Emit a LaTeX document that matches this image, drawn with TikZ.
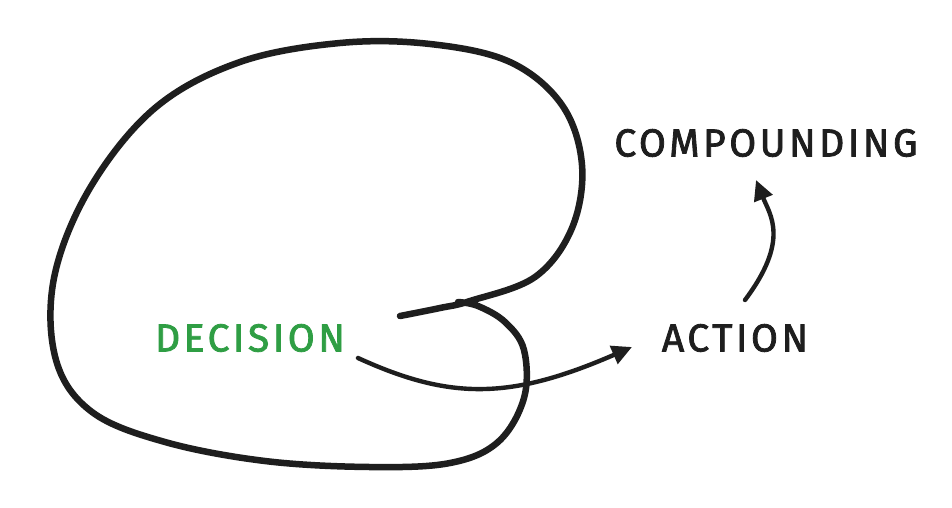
\documentclass[tikz,border=0pt]{standalone}
\usepackage{fontspec}
\setmainfont{Fira Sans}[FakeBold=2]
\usetikzlibrary{arrows.meta,calc}
\definecolor{ink}{HTML}{1E1E1E}
\definecolor{grn}{HTML}{2F9E44}
\tikzset{
  stroke/.style={draw=ink, line width=6.5pt, line cap=round, line join=round},
  conn/.style={draw=ink, line width=4.4pt, line cap=round, -{Triangle[length=20pt,width=19pt]}},
  lbl/.style={font=\fontsize{39}{39}\selectfont\addfontfeature{LetterSpace=9}, inner sep=0pt, text=ink}
}
\begin{document}
\begin{tikzpicture}[x=1pt,y=-1pt]
\useasboundingbox[fill=white] (0,0) rectangle (952,507);
% loop
\draw[stroke] plot[smooth, tension=0.6] coordinates {
 (400,316) (440,308) (470,301) (535,277) (572,228) (582,165) (562,105) (510,62) (430,44)
 (340,43) (240,62) (155,108) (90,188) (54,278) (56,360) (92,412) (165,442) (265,461)
 (370,467) (450,463) (498,442) (524,398) (524,350) (505,322) (478,306) (458,302)};
\node[lbl, text=grn] (decision) at (250,338) {DECISION};
\node[lbl] (action) at (735,338) {ACTION};
\node[lbl] (compounding) at (766,143) {COMPOUNDING};
\coordinate (d1) at (358,358);
\coordinate (a1) at (632,347);
\coordinate (a2) at (745,300);
\coordinate (c1) at (756,180);
\draw[conn] (d1) .. controls (450,400) and (510,400) .. (a1);
\draw[conn] (a2) .. controls (790,240) and (770,215) .. (c1);
\end{tikzpicture}
\end{document}
